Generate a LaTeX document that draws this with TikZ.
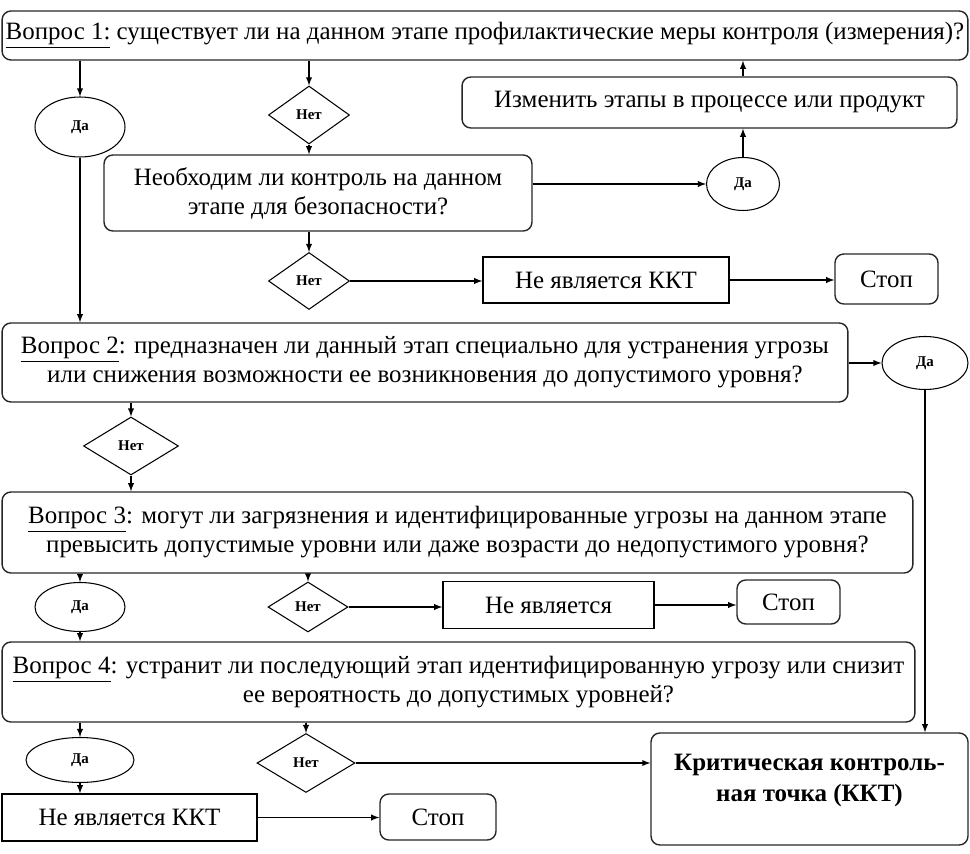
\documentclass[tikz,border=0pt]{standalone}
\usepackage{fontspec}
\setmainfont{Liberation Serif}
\usetikzlibrary{shapes.geometric, arrows, positioning}

\begin{document}
\begin{tikzpicture}[x=0.02cm, y=-0.02cm]
\tikzstyle{question} = [rectangle, rounded corners=5pt, draw=black!85, line width=0.8pt, align=center, inner xsep=0pt, font=\fontsize{14.2}{16.5}\selectfont]
\tikzstyle{result} = [rectangle, draw=black, line width=0.8pt, align=center, font=\fontsize{14.2}{16.5}\selectfont]
\tikzstyle{stopbox} = [rectangle, rounded corners=5pt, draw=black!85, line width=0.8pt, font=\fontsize{14.2}{16.5}\selectfont]
\tikzstyle{yesnode} = [ellipse, draw=black, line width=0.6pt, inner sep=0pt, font=\fontsize{8.5}{10}\selectfont\bfseries]
\tikzstyle{nonode} = [diamond, draw=black, line width=0.6pt, inner sep=0pt, font=\fontsize{8.5}{10}\selectfont\bfseries]
\tikzstyle{arrow} = [line width=0.6pt,->,>=latex]

\useasboundingbox (0,0) rectangle (970,854);

% question 1 and its branches
\node (q1) [question, minimum width=19.32cm, minimum height=0.98cm] at (485,35.5) {\underline{Вопрос 1:} существует ли на данном этапе профилактические меры контроля (измерения)?};
\node (da1) [yesnode, minimum width=1.8cm, minimum height=1.2cm] at (80,127) {Да};
\node (net1) [nonode, minimum width=1.62cm, minimum height=1.16cm] at (309,115) {Нет};
\node (need) [question, minimum width=8.56cm, minimum height=1.52cm] at (318,193) {Необходим ли контроль на данном\\этапе для безопасности?};
\node (da2) [yesnode, minimum width=1.46cm, minimum height=1.06cm] at (743,184) {Да};
\node (change) [question, minimum width=9.9cm, minimum height=1.02cm] at (709.5,102.5) {Изменить этапы в процессе или продукт};
\node (net2) [nonode, minimum width=1.62cm, minimum height=1.14cm] at (309,281) {Нет};
\node (notccp1) [result, minimum width=4.92cm, minimum height=0.92cm] at (606,280) {Не является ККТ};
\node (stop1) [stopbox, minimum width=2.06cm, minimum height=1.0cm] at (886.5,279) {Стоп};

% question 2
\node (q2) [question, minimum width=16.92cm, minimum height=1.58cm] at (425,362.5) {\underline{Вопрос 2}: предназначен ли данный этап специально для устранения угрозы\\или снижения возможности ее возникновения до допустимого уровня?};
\node (da3) [yesnode, minimum width=1.72cm, minimum height=1.06cm] at (925,363) {Да};
\node (net3) [nonode, minimum width=1.9cm, minimum height=1.16cm] at (131,446) {Нет};

% question 3
\node (q3) [question, minimum width=18.22cm, minimum height=1.62cm] at (457.5,532.5) {\underline{Вопрос 3}: могут ли загрязнения и идентифицированные угрозы на данном этапе\\превысить допустимые уровни или даже возрасти до недопустимого уровня?};
\node (da4) [yesnode, minimum width=1.8cm, minimum height=0.98cm] at (80,607) {Да};
\node (net4) [nonode, minimum width=1.6cm, minimum height=1.0cm] at (308,607) {Нет};
\node (notccp2) [result, minimum width=4.22cm, minimum height=0.94cm] at (548.5,605) {Не является};
\node (stop2) [stopbox, minimum width=2.06cm, minimum height=0.88cm] at (788.5,602) {Стоп};

% question 4
\node (q4) [question, minimum width=18.26cm, minimum height=1.6cm] at (458.5,682) {\underline{Вопрос 4}: устранит ли последующий этап идентифицированную угрозу или снизит\\ее вероятность до допустимых уровней?};
\node (da5) [yesnode, minimum width=2.16cm, minimum height=0.9cm] at (80,760) {Да};
\node (net5) [nonode, minimum width=1.96cm, minimum height=1.18cm] at (306,763) {Нет};
\node (ccp) [question, minimum width=6.34cm, minimum height=2.24cm, text depth=0.45cm, font=\fontsize{14.2}{18}\selectfont\bfseries] at (809.5,789) {Критическая контроль-\\ная точка (ККТ)};
\node (notccp3) [result, minimum width=5.1cm, minimum height=0.94cm] at (129.5,817.5) {Не является ККТ};
\node (stop3) [stopbox, minimum width=2.32cm, minimum height=0.92cm] at (438,817) {Стоп};

\draw [arrow] (q1.south -| da1) -- (da1.north);
\draw [arrow] (q1.south -| net1) -- (net1.north);
\draw [arrow] (net1.south) -- (need.north -| net1);
\draw [arrow] (da1.south) -- (q2.north -| da1);
\draw [arrow] (need.east |- da2.west) -- (da2.west);
\draw [arrow] (da2.north) -- (change.south -| da2);
\draw [arrow] (change.north -| da2) -- (q1.south -| da2);
\draw [arrow] (need.south -| net2) -- (net2.north);
\draw [arrow] (net2.east) -- (net2.east -| notccp1.west);
\draw [arrow] (notccp1.east) -- (notccp1.east -| stop1.west);
\draw [arrow] (q2.east |- da3.west) -- (da3.west);
\draw [arrow] (da3.south) -- (ccp.north -| da3);
\draw [arrow] (q2.south -| net3) -- (net3.north);
\draw [arrow] (net3.south) -- (q3.north -| net3);
\draw [arrow] (q3.south -| da4) -- (da4.north);
\draw [arrow] (q3.south -| net4) -- (net4.north);
\draw [arrow] (net4.east) -- (net4.east -| notccp2.west);
\draw [arrow] (notccp2.east) -- (notccp2.east -| stop2.west);
\draw [arrow] (da4.south) -- (q4.north -| da4);
\draw [arrow] (q4.south -| da5) -- (da5.north);
\draw [arrow] (q4.south -| net5) -- (net5.north);
\draw [arrow] (net5.east) -- (net5.east -| ccp.west);
\draw [arrow] (da5.south) -- (notccp3.north -| da5);
\draw [arrow] (notccp3.east) -- (notccp3.east -| stop3.west);
\end{tikzpicture}
\end{document}
